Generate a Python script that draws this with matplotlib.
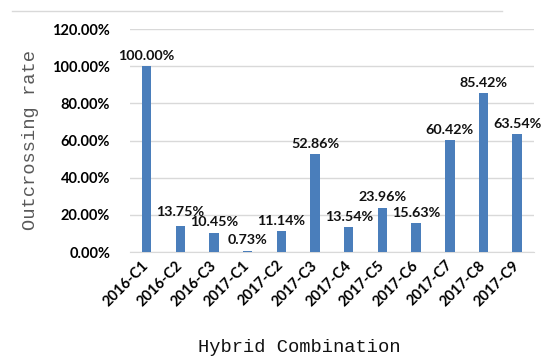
import numpy as np
import matplotlib.pyplot as plt
from matplotlib.lines import Line2D

combos = ['2016-C1', '2016-C2', '2016-C3', '2017-C1', '2017-C2', '2017-C3',
          '2017-C4', '2017-C5', '2017-C6', '2017-C7', '2017-C8', '2017-C9']
rates = [100.00, 13.75, 10.45, 0.73, 11.14, 52.86,
         13.54, 23.96, 15.63, 60.42, 85.42, 63.54]
yticks = [0, 20, 40, 60, 80, 100, 120]

fig = plt.figure(figsize=(5.5, 3.6), dpi=100)
ax = fig.add_axes([0.236, 0.30, 0.735, 0.619])

x = np.arange(len(combos))
ax.bar(x, rates, width=0.28, color='#4a7ebb', zorder=3)

# label above each bar; the 2016-C2 one sits a little higher so it clears its neighbour
for i, (xi, v) in enumerate(zip(x, rates)):
    dy = 6 if combos[i] == '2016-C2' else 3
    ax.annotate('%.2f%%' % v, (xi, v), xytext=(0, dy), textcoords='offset points',
                ha='center', va='bottom', fontsize=10.3, fontweight='bold',
                family='Lato', color='#111111')

ax.set_xlim(-0.5, len(combos) - 0.5)
ax.set_ylim(0, 120)
ax.set_yticks(yticks)
ax.set_yticklabels(['%.2f%%' % t for t in yticks], fontsize=10.5,
                   fontweight='bold', family='Lato')
ax.set_xticks(x)
ax.set_xticklabels(combos, rotation=45, ha='right', va='center',
                   rotation_mode='anchor', fontsize=10.5, fontweight='bold',
                   family='Lato')
ax.tick_params(axis='both', length=0)
ax.tick_params(axis='y', pad=14)
ax.tick_params(axis='x', pad=8)
ax.grid(axis='y', color='#d9d9d9', linewidth=1, zorder=0)
for s in ['top', 'right', 'left']:
    ax.spines[s].set_visible(False)
ax.spines['bottom'].set_color('#d9d9d9')

fig.text(0.055, 0.61, 'Outcrossing rate', rotation=90, ha='center', va='center',
         family='Liberation Mono', fontsize=13.5, color='#595959')
fig.text(0.545, 0.035, 'Hybrid Combination', ha='center', va='center',
         family='Liberation Mono', fontsize=13.5, color='#111111')

fig.add_artist(Line2D([0.022, 0.913], [0.969, 0.969], color='#d9d9d9',
                      linewidth=1, transform=fig.transFigure))

fig.savefig('out.png', dpi=100)
